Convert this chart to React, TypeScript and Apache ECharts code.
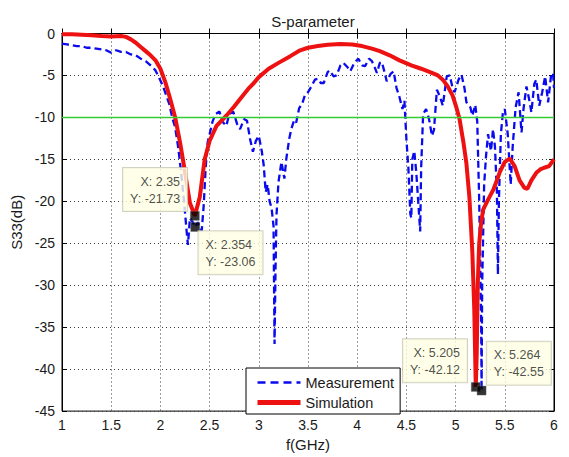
import React, { useEffect, useRef } from "react";
import * as echarts from "echarts";

// ---- data ----
const measFreq = [
  1.0, 1.05, 1.1, 1.15, 1.2, 1.25, 1.3, 1.35, 1.4, 1.45, 1.5, 1.55, 1.6, 1.65, 1.7, 1.75, 1.8, 1.85, 1.9, 1.95,
  2.0, 2.03, 2.06, 2.09, 2.12, 2.15, 2.18, 2.21, 2.24, 2.27, 2.28, 2.3, 2.33, 2.354, 2.38, 2.42, 2.44, 2.46, 2.48, 2.5,
  2.53, 2.56, 2.6, 2.63, 2.67, 2.7, 2.74, 2.78, 2.81, 2.85, 2.88, 2.91, 2.94, 2.97, 3.0, 3.03, 3.05, 3.07, 3.09, 3.11,
  3.13, 3.15, 3.16, 3.17, 3.18, 3.2, 3.23, 3.26, 3.28, 3.31, 3.33, 3.36, 3.38, 3.41, 3.44, 3.47, 3.5, 3.54, 3.57, 3.6,
  3.63, 3.66, 3.7, 3.72, 3.76, 3.79, 3.83, 3.86, 3.9, 3.93, 3.97, 4.01, 4.05, 4.08, 4.12, 4.15, 4.18, 4.2, 4.23, 4.25,
  4.28, 4.3, 4.34, 4.37, 4.4, 4.43, 4.46, 4.48, 4.5, 4.52, 4.54, 4.55, 4.56, 4.58, 4.6, 4.62, 4.64, 4.65, 4.67, 4.7,
  4.73, 4.76, 4.78, 4.81, 4.84, 4.87, 4.91, 4.94, 4.97, 4.99, 5.03, 5.06, 5.09, 5.11, 5.15, 5.17, 5.2, 5.22, 5.24, 5.26,
  5.264, 5.27, 5.29, 5.31, 5.33, 5.36, 5.38, 5.4, 5.42, 5.43, 5.44, 5.46, 5.48, 5.5, 5.53, 5.56, 5.58, 5.61, 5.64, 5.67,
  5.69, 5.72, 5.75, 5.77, 5.8, 5.82, 5.85, 5.88, 5.91, 5.94, 5.97, 5.99, 6.0,
];
const measDb = [
  -1.2, -1.3, -1.4, -1.5, -1.5, -1.7, -1.7, -1.8, -1.9, -2.0, -2.3, -2.0, -2.2, -2.2, -2.5, -2.6, -3.0, -3.3, -3.8, -4.4,
  -5.6, -6.4, -7.4, -8.4, -10.0, -11.2, -13.5, -16.5, -20.0, -24.0, -25.2, -22.0, -22.5, -23.06, -22.5, -23.5, -20.5, -16.0, -13.0, -12.0,
  -10.5, -9.6, -9.3, -10.5, -11.0, -9.6, -9.3, -10.8, -11.4, -10.2, -10.4, -12.5, -14.1, -12.8, -12.2, -14.0, -15.7, -18.9, -18.0, -20.0,
  -20.8, -23.0, -37.0, -28.0, -21.6, -17.7, -15.3, -17.3, -14.9, -12.5, -11.4, -10.3, -10.6, -8.9, -8.4, -7.3, -7.0, -6.2, -5.5, -5.4,
  -5.9, -5.9, -4.6, -4.4, -5.1, -5.0, -3.8, -3.5, -4.0, -4.5, -3.5, -3.0, -3.8, -3.9, -3.0, -3.3, -4.1, -4.7, -3.5, -3.4,
  -4.7, -5.7, -4.8, -4.5, -6.5, -7.6, -9.0, -8.0, -12.6, -16.0, -21.5, -22.0, -15.0, -14.0, -16.5, -20.0, -23.6, -16.0, -9.6, -9.0,
  -10.2, -12.2, -11.5, -6.7, -7.5, -8.6, -5.1, -5.0, -6.5, -7.0, -5.5, -4.9, -6.5, -8.2, -8.8, -9.8, -8.5, -10.5, -20.0, -35.0,
  -42.55, -30.0, -18.0, -14.5, -12.0, -14.0, -11.4, -13.5, -19.0, -28.7, -20.0, -12.0, -9.5, -9.0, -12.0, -18.0, -13.5, -8.8, -7.0, -11.8,
  -9.0, -6.3, -8.0, -9.4, -6.0, -5.5, -8.6, -7.0, -5.1, -8.2, -5.0, -4.7, -6.5,
];

const simFreq = [
  1.0, 1.1, 1.2, 1.3, 1.4, 1.5, 1.6, 1.65, 1.7, 1.75, 1.8, 1.85, 1.9, 1.95, 2.0, 2.05, 2.1, 2.15, 2.2, 2.25,
  2.3, 2.35, 2.4, 2.45, 2.5, 2.57, 2.67, 2.75, 2.81, 2.9, 2.95, 3.0, 3.1, 3.2, 3.32, 3.42, 3.5, 3.6, 3.7, 3.83,
  3.95, 4.05, 4.15, 4.23, 4.33, 4.43, 4.55, 4.65, 4.74, 4.82, 4.87, 4.92, 4.97, 5.01, 5.04, 5.08, 5.11, 5.14, 5.17, 5.19,
  5.205, 5.215, 5.225, 5.24, 5.26, 5.28, 5.33, 5.38, 5.42, 5.45, 5.5, 5.55, 5.6, 5.65, 5.7, 5.73, 5.77, 5.82, 5.86, 5.9,
  5.95, 6.0,
];
const simDb = [
  -0.1, -0.1, -0.15, -0.2, -0.3, -0.35, -0.3, -0.4, -0.7, -1.1, -1.6, -2.1, -2.6, -3.2, -4.2, -5.8, -7.8, -10.0, -13.0, -16.5,
  -20.2, -21.73, -19.5, -15.0, -12.8, -11.0, -9.8, -8.7, -7.8, -6.5, -5.9, -5.2, -4.2, -3.5, -2.7, -2.0, -1.7, -1.5, -1.35, -1.25,
  -1.3, -1.5, -1.8, -2.1, -2.6, -3.2, -3.8, -4.2, -4.6, -5.0, -5.5, -6.3, -7.4, -8.9, -10.2, -13.0, -15.5, -19.5, -26.0, -33.0,
  -42.12, -38.0, -30.0, -25.0, -22.5, -21.0, -19.8, -18.7, -17.5, -16.5, -15.3, -14.9, -15.8, -17.5, -18.4, -18.5, -17.5, -16.6, -16.2, -16.0,
  -15.8, -15.0,
];

const thresholdFreq = [1, 6];
const thresholdDb = [-10, -10];

// data tips: [x, y]
const tipFreq = [2.35, 2.354, 5.205, 5.264];
const tipDb = [-21.73, -23.06, -42.12, -42.55];

const xTicks = { min: 1, max: 6, interval: 0.5 };
const yTicks = { min: -45, max: 0, interval: 5 };

const FONT = "'Liberation Sans', Arial, Helvetica, sans-serif";

function zip(a: number[], b: number[]) {
  return a.map((v, i) => [v, b[i]]);
}

export default function App() {
  const ref = useRef<HTMLDivElement>(null);

  useEffect(() => {
    if (!ref.current) return;
    const chart = echarts.init(ref.current, null, { renderer: "svg" });

    const tipLabelPlacement = [
      { position: [-3, 0], align: "right", verticalAlign: "bottom" },
      { position: [8, 9], align: "left", verticalAlign: "top" },
      { position: [-4, 0], align: "right", verticalAlign: "bottom" },
      { position: [10, -1], align: "left", verticalAlign: "bottom" },
    ];

    const tipData = tipFreq.map((f, i) => ({
      value: [f, tipDb[i]],
      label: {
        show: true,
        position: tipLabelPlacement[i].position,
        align: tipLabelPlacement[i].align,
        verticalAlign: tipLabelPlacement[i].verticalAlign,
        formatter: () => `X: ${f}\nY: ${tipDb[i]}`,
        fontSize: 12.5,
        fontFamily: FONT,
        color: "#222",
        lineHeight: 17,
        backgroundColor: "#ffffe3",
        borderColor: "#c8c8b4",
        borderWidth: 1,
        padding: [5, 7, 4, 7],
      },
    }));

    const axisCommon = {
      type: "value" as const,
      axisLine: { show: true, lineStyle: { color: "#000", width: 1 } },
      axisTick: { show: true, inside: true, length: 5, lineStyle: { color: "#000" } },
    };

    chart.setOption({
      animation: false,
      backgroundColor: "#fff",
      textStyle: { fontFamily: FONT, color: "#1a1a1a" },
      title: {
        text: "S-parameter",
        left: 308,
        textAlign: "center",
        top: 9,
        textStyle: { fontSize: 15, fontWeight: "normal", color: "#1a1a1a", fontFamily: FONT },
      },
      grid: {
        left: 62,
        right: 15,
        top: 33.5,
        bottom: 42.5,
        show: true,
        backgroundColor: "#fff",
        borderColor: "#000",
        borderWidth: 1,
      },
      legend: {
        data: [
          { name: "Measurement", lineStyle: { width: 2.5, type: [8, 5] } },
          { name: "Simulation", lineStyle: { width: 5 } },
        ],
        orient: "vertical",
        left: 246,
        top: 368,
        itemWidth: 43,
        itemHeight: 14,
        itemGap: 5,
        padding: [7, 6, 4, 9],
        backgroundColor: "#fff",
        borderColor: "#000",
        borderWidth: 1,
        borderRadius: 0,
        itemStyle: { opacity: 0 },
        textStyle: { fontSize: 14.5, color: "#1a1a1a", fontFamily: FONT },
        z: 10,
      },
      xAxis: [
        {
          ...axisCommon,
          position: "bottom",
          min: xTicks.min,
          max: xTicks.max,
          interval: xTicks.interval,
          name: "f(GHz)",
          nameLocation: "middle",
          nameGap: 15,
          nameTextStyle: { fontSize: 15, color: "#1a1a1a", fontFamily: FONT, verticalAlign: "top" },
          axisLabel: { fontSize: 14, color: "#1a1a1a", margin: 7, fontFamily: FONT },
          splitLine: { show: true, lineStyle: { color: "#3a3a3a", type: [1, 3], width: 1 } },
        },
        {
          ...axisCommon,
          position: "top",
          min: xTicks.min,
          max: xTicks.max,
          interval: xTicks.interval,
          axisLabel: { show: false },
          splitLine: { show: false },
        },
      ],
      yAxis: [
        {
          ...axisCommon,
          position: "left",
          min: yTicks.min,
          max: yTicks.max,
          interval: yTicks.interval,
          name: "S33(dB)",
          nameLocation: "middle",
          nameGap: 36,
          nameRotate: 90,
          nameTextStyle: { fontSize: 15, color: "#1a1a1a", fontFamily: FONT },
          axisLabel: { fontSize: 14, color: "#1a1a1a", margin: 7, fontFamily: FONT },
          splitLine: { show: true, lineStyle: { color: "#3a3a3a", type: [1, 3], width: 1 } },
        },
        {
          ...axisCommon,
          position: "right",
          min: yTicks.min,
          max: yTicks.max,
          interval: yTicks.interval,
          axisLabel: { show: false },
          splitLine: { show: false },
        },
      ],
      series: [
        {
          name: "Measurement",
          type: "line",
          data: zip(measFreq, measDb),
          showSymbol: false,
          symbol: "none",
          color: "#0a0aee",
          lineStyle: { color: "#0a0aee", width: 2.3, type: [7, 4] },
          z: 3,
        },
        {
          name: "Simulation",
          type: "line",
          data: zip(simFreq, simDb),
          showSymbol: false,
          symbol: "none",
          color: "#ee1111",
          lineStyle: { color: "#ee1111", width: 4 },
          z: 4,
        },
        {
          name: "threshold",
          type: "line",
          data: zip(thresholdFreq, thresholdDb),
          showSymbol: false,
          symbol: "none",
          silent: true,
          lineStyle: { color: "#33cc33", width: 1.5 },
          z: 5,
        },
        {
          name: "tips",
          type: "scatter",
          data: tipData,
          symbol: "rect",
          symbolSize: 9,
          itemStyle: { color: "#000", borderColor: "#666", borderWidth: 0.5 },
          z: 8,
        },
      ],
    });

    return () => chart.dispose();
  }, []);

  return (
    <div
      ref={ref}
      style={{ position: "absolute", left: 0, top: 0, width: 569, height: 457 }}
    />
  );
}
